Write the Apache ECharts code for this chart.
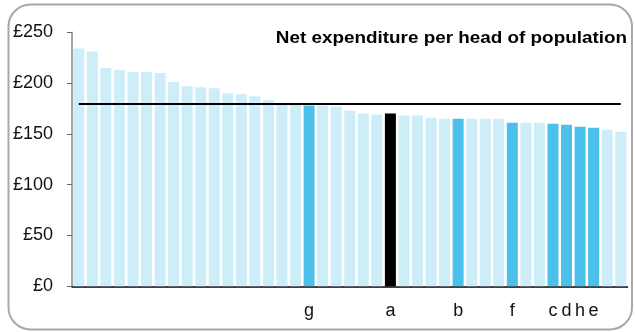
<!DOCTYPE html>
<html>
<head>
<meta charset="utf-8">
<script src="https://cdn.jsdelivr.net/npm/echarts@6/dist/echarts.min.js"></script>
<style>
  html, body { margin: 0; padding: 0; background: #ffffff; }
  #chart { width: 635px; height: 332px; }
</style>
</head>
<body>
<div id="chart"></div>
<script>
// Net expenditure per head (£), councils ranked from highest to lowest
const categories = ['', '', '', '', '', '', '', '', '', '', '', '', '', '', '', '', '', 'g',
  '', '', '', '', '', 'a', '', '', '', '', 'b', '', '', '', 'f', '', '', 'c', 'd', 'h', 'e', '', ''];
const values = [234, 231, 215, 213, 211, 211, 210, 201, 197, 196, 195, 190, 189, 187, 183, 180, 179,
  178, 178, 177, 173, 170, 169, 170, 168, 168, 166, 165, 165, 165, 165, 165, 161, 161, 161, 160,
  159, 157, 156, 154, 152];
const averageLine = 180;
const yTicks = [0, 50, 100, 150, 200, 250];
const title = 'Net expenditure per head of population';

const LIGHT = '#cdedf9';
const HIGHLIGHT = '#4bc0ea';
const COUNCIL = '#000000';

const barData = values.map((v, i) => {
  const name = categories[i];
  let color = LIGHT;
  if (name === 'a') color = COUNCIL;
  else if (name !== '') color = HIGHLIGHT;
  return { value: v, itemStyle: { color: color } };
});

const chart = echarts.init(document.getElementById('chart'), null, { renderer: 'canvas' });
chart.setOption({
  animation: false,
  textStyle: { fontFamily: 'Liberation Sans, Arial, sans-serif' },
  graphic: [{
    type: 'rect',
    shape: { x: 8.5, y: 4.5, width: 623.5, height: 325, r: 22 },
    style: { fill: 'none', stroke: '#a8a8a8', lineWidth: 2 },
    silent: true,
    z: -1
  }, {
    // title anchored at its right end, widened slightly
    type: 'text',
    x: 627,
    y: 38,
    scaleX: 1.11,
    originX: 0,
    style: {
      text: title,
      fill: '#000',
      align: 'right',
      verticalAlign: 'middle',
      font: 'bold 17px "Liberation Sans", Arial, sans-serif'
    }
  }],
  grid: { left: 72, right: 7.5, top: 32.3, bottom: 45.7, containLabel: false },
  xAxis: {
    type: 'category',
    data: categories,
    boundaryGap: true,
    axisLine: { show: true, lineStyle: { color: '#000', width: 1.5 } },
    axisTick: { show: false },
    axisLabel: { interval: 0, color: '#111', fontSize: 18, margin: 16 }
  },
  yAxis: {
    type: 'value',
    min: yTicks[0],
    max: yTicks[yTicks.length - 1],
    interval: 50,
    splitLine: { show: false },
    axisLine: { show: true, lineStyle: { color: '#888', width: 1.5 } },
    axisTick: { show: true, length: 5, lineStyle: { color: '#666' } },
    axisLabel: { color: '#111', fontSize: 18, margin: 19, formatter: v => '£' + v }
  },
  series: [{
    type: 'bar',
    data: barData,
    barCategoryGap: '19%',
    markLine: {
      silent: true,
      symbol: 'none',
      label: { show: false },
      lineStyle: { color: '#000', width: 2, type: 'solid' },
      data: [[{ xAxis: 0, yAxis: averageLine }, { xAxis: categories.length - 1, yAxis: averageLine }]]
    }
  }]
});
</script>
</body>
</html>
